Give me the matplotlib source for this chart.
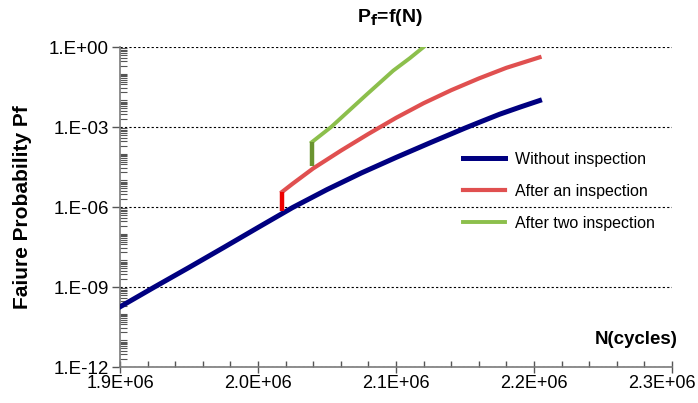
import matplotlib
matplotlib.use("Agg")
import matplotlib.pyplot as plt
from matplotlib.ticker import FixedLocator, MultipleLocator, LogLocator, FuncFormatter, NullFormatter

plt.rcParams['font.family'] = ['Liberation Sans', 'DejaVu Sans']

n_without = [1.900e6, 1.925e6, 1.950e6, 1.975e6, 2.000e6, 2.025e6, 2.050e6,
             2.075e6, 2.100e6, 2.125e6, 2.150e6, 2.1625e6, 2.175e6, 2.190e6, 2.204e6]
pf_without = [1.8e-10, 1.0e-9, 5.4e-9, 3.0e-8, 1.7e-7, 9.5e-7, 4.5e-6,
              1.9e-5, 7.2e-5, 2.6e-4, 9.1e-4, 1.66e-3, 3.0e-3, 5.6e-3, 9.8e-3]

n_one = [2.0175e6, 2.025e6, 2.040e6, 2.060e6, 2.080e6, 2.100e6, 2.120e6,
         2.140e6, 2.160e6, 2.180e6, 2.204e6]
pf_one = [3.7e-6, 7.4e-6, 2.8e-5, 1.29e-4, 5.5e-4, 2.2e-3, 7.8e-3,
          2.4e-2, 6.6e-2, 0.166, 0.41]
n_jump_one = [2.0175e6, 2.0175e6]
pf_jump_one = [6.8e-7, 3.7e-6]

n_two = [2.039e6, 2.053e6, 2.065e6, 2.079e6, 2.098e6, 2.110e6, 2.120e6]
pf_two = [2.7e-4, 1.0e-3, 3.7e-3, 1.7e-2, 0.13, 0.38, 1.0]
n_jump_two = [2.039e6, 2.039e6]
pf_jump_two = [3.5e-5, 2.7e-4]

y_majors = [1e-12, 1e-9, 1e-6, 1e-3, 1e0]
y_labels = ["1.E-12", "1.E-09", "1.E-06", "1.E-03", "1.E+00"]
x_min, x_max = 1.9e6, 2.3e6

fig = plt.figure(figsize=(6.98, 4.03), dpi=100)
ax = fig.add_axes([120/698, 1-367/403, 552/698, 320/403])

ax.plot(n_without, pf_without, color="#000080", lw=3.6, label="Without inspection", zorder=3)
ax.plot(n_one, pf_one, color="#e05050", lw=3.0, label="After an inspection", zorder=3)
ax.plot(n_jump_one, pf_jump_one, color="#ee0000", lw=3.2, solid_capstyle="butt", zorder=4)
ax.plot(n_two, pf_two, color="#8cbf4c", lw=2.8, label="After two inspection", zorder=3)
ax.plot(n_jump_two, pf_jump_two, color="#6a9430", lw=3.2, solid_capstyle="butt", zorder=4)

ax.set_yscale("log")
ax.set_ylim(1e-12, 1e0)
ax.set_xlim(x_min, x_max)

ax.yaxis.set_major_locator(FixedLocator(y_majors))
ax.yaxis.set_major_formatter(FuncFormatter(lambda v, p: y_labels[y_majors.index(v)] if v in y_majors else ""))
ax.yaxis.set_minor_locator(LogLocator(base=10, subs=range(1, 10), numticks=200))
ax.yaxis.set_minor_formatter(NullFormatter())

def xfmt(v, p):
    # the last label is drawn separately, pulled in a little like in the original
    if abs(v - x_max) < 1:
        return ""
    return "%.1fE+06" % (v/1e6)

ax.xaxis.set_major_locator(MultipleLocator(1e5))
ax.xaxis.set_minor_locator(MultipleLocator(2e4))
ax.xaxis.set_major_formatter(FuncFormatter(xfmt))
ax.annotate("%.1fE+06" % (x_max/1e6), xy=(x_max, 0), xycoords=ax.get_xaxis_transform(),
            xytext=(-7, -5.5), textcoords="offset points", ha="center", va="top", fontsize=13)

for s in ["top", "right"]:
    ax.spines[s].set_visible(False)
for s in ["left", "bottom"]:
    ax.spines[s].set_color("#7a7a7a")
    ax.spines[s].set_linewidth(1.2)

ax.tick_params(axis="y", which="major", direction="out", length=6, width=1, color="#555555", labelsize=13.5, pad=2)
ax.tick_params(axis="y", which="minor", direction="in", length=5, width=0.8, color="#555555")
ax.tick_params(axis="x", which="major", direction="inout", length=9, width=1, color="#555555", labelsize=13, pad=1)
ax.tick_params(axis="x", which="minor", direction="in", length=4, width=1, color="#555555")

ax.yaxis.grid(True, which="major", color="black", linestyle=(0, (2, 2)), lw=0.8)
ax.set_axisbelow(True)

ax.set_ylabel("Faiure Probability Pf", fontsize=15, fontweight="bold", labelpad=12)
fig.text(390/698, 1-17/403, r"P$_\mathbf{f}$=f(N)", fontsize=14, fontweight="bold",
         ha="center", va="center")
fig.text(678/698, 1-340/403, "N(cycles)", fontsize=13.5, fontweight="bold",
         ha="right", va="center")

ax.legend(loc="upper left", bbox_to_anchor=(463/698, 1-152/403), bbox_transform=fig.transFigure,
          frameon=False, fontsize=11.5, handlelength=2.6, handletextpad=0.65,
          labelspacing=1.05, borderpad=0, borderaxespad=0)

fig.savefig("out.png", dpi=100)
